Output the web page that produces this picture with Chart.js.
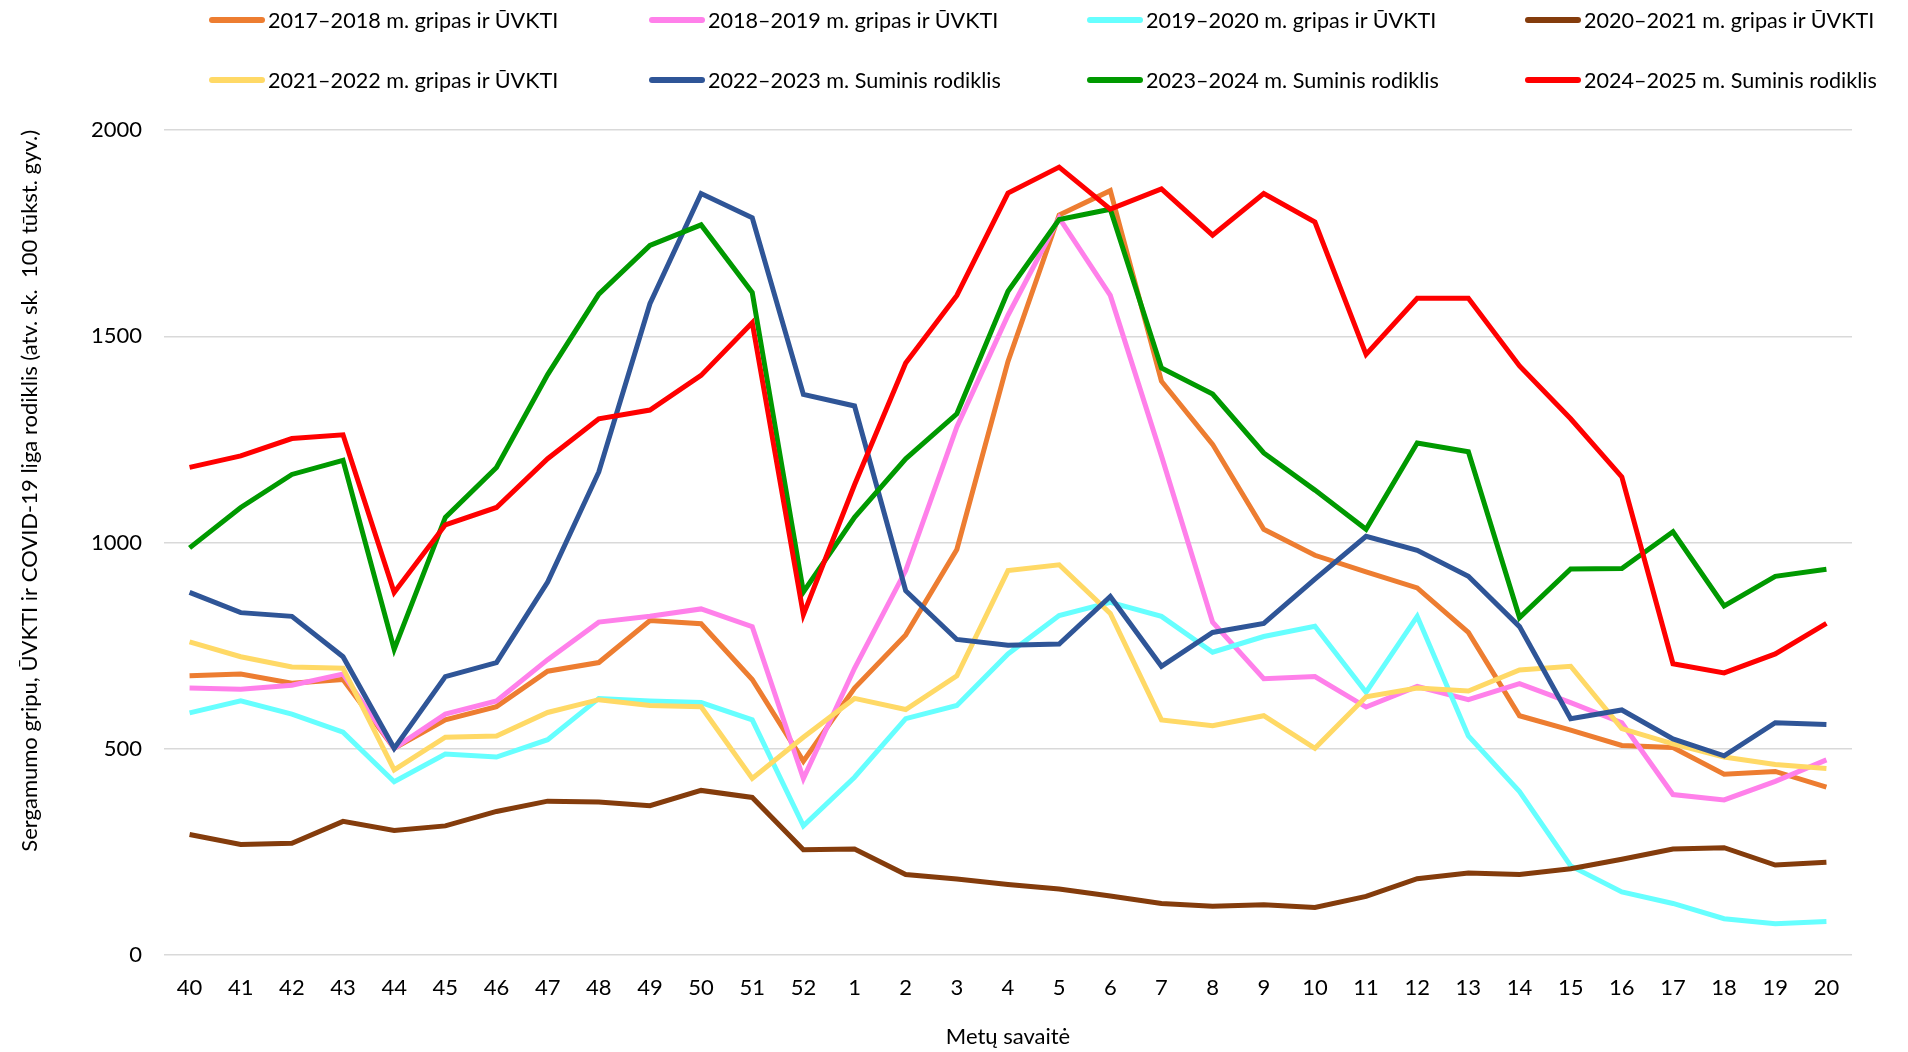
<!DOCTYPE html>
<html>
<head>
<meta charset="utf-8">
<script src="https://cdn.jsdelivr.net/npm/chart.js@4/dist/chart.umd.min.js"></script>
<style>
  html, body { margin: 0; padding: 0; background: #fff; }
  #wrap { position: relative; width: 1908px; height: 1052px; }
  #legend { position: absolute; left: 0; top: 0; width: 1908px; height: 110px; font-family: Lato, sans-serif; font-size: 21.6px; color: #000; }
  .item { position: absolute; display: flex; align-items: center; white-space: nowrap; height: 30px; }
  .swatch { width: 56px; height: 6px; border-radius: 3px; margin-right: 3px; }
</style>
</head>
<body>
<div id="wrap">
  <canvas id="graph" width="1908" height="1052"></canvas>
  <div id="legend"></div>
</div>
<script>
const weeks = ['40','41','42','43','44','45','46','47','48','49','50','51','52',
  '1','2','3','4','5','6','7','8','9','10','11','12','13','14','15','16','17','18','19','20']

const s1718 = [677,681,659,668,501,570,602,688,709,811,803,668,470,647,776,983,1439,1794,1853,1391,1238,1032,969,929,890,782,580,545,508,503,438,445,407]
const s1819 = [647,644,654,681,501,584,616,716,807,821,839,796,428,695,932,1280,1551,1787,1599,1210,807,670,675,601,651,619,658,612,563,389,376,421,473]
const s1920 = [587,616,584,540,420,487,480,522,622,616,612,570,313,431,573,605,730,823,855,821,734,772,797,637,821,531,396,216,153,125,88,76,81]
const s2021 = [292,268,271,324,302,313,348,373,371,362,399,382,255,257,195,184,171,160,143,125,118,122,115,142,185,199,195,209,232,257,260,218,225]
const s2122 = [759,723,698,695,449,528,531,588,619,605,602,428,528,622,595,677,932,946,828,570,556,580,501,626,647,640,691,700,549,512,480,462,452]
const s2223 = [879,830,821,723,501,675,709,904,1171,1579,1846,1787,1359,1331,883,765,751,754,869,700,782,804,911,1015,981,918,796,573,594,524,483,563,559]
const s2324 = [987,1085,1165,1199,741,1061,1182,1407,1602,1720,1770,1606,880,1061,1203,1312,1609,1783,1808,1423,1360,1217,1127,1032,1241,1220,818,936,937,1026,846,918,935]
const s2425 = [1182,1210,1252,1261,879,1043,1085,1203,1300,1321,1405,1533,825,1140,1435,1599,1847,1910,1808,1857,1745,1846,1777,1456,1592,1592,1428,1300,1159,706,684,730,804]

const seriesNames = [
  '2017–2018 m. gripas ir ŪVKTI',
  '2018–2019 m. gripas ir ŪVKTI',
  '2019–2020 m. gripas ir ŪVKTI',
  '2020–2021 m. gripas ir ŪVKTI',
  '2021–2022 m. gripas ir ŪVKTI',
  '2022–2023 m. Suminis rodiklis',
  '2023–2024 m. Suminis rodiklis',
  '2024–2025 m. Suminis rodiklis'
]
const seriesData = [s1718, s1819, s1920, s2021, s2122, s2223, s2324, s2425]
const colors = ['#ED7D31', '#FF80EA', '#66FFFF', '#843C0C', '#FFD966', '#2F5597', '#009900', '#FF0000']

const yTicks = [0, 500, 1000, 1500, 2000]

const font = 'Lato'

const datasets = seriesNames.map((name, i) => ({
  label: name,
  data: seriesData[i],
  borderColor: colors[i],
  backgroundColor: colors[i],
  borderWidth: 5,
  pointRadius: 0,
  tension: 0,
  fill: false,
  // excel draws later series on top
  order: seriesNames.length - i
}))

const cfg = {
  type: 'line',
  data: { labels: weeks, datasets: datasets },
  options: {
    responsive: false,
    animation: false,
    layout: { padding: { top: 130, right: 56, left: 0, bottom: 0 } },
    plugins: {
      legend: { display: false },
      tooltip: { enabled: false }
    },
    scales: {
      x: {
        offset: true,
        grid: { display: false, drawTicks: false },
        border: { display: false },
        ticks: { color: '#000', font: { family: font, size: 22 }, padding: 20, maxRotation: 0, autoSkip: false },
        title: { display: true, text: 'Metų savaitė', color: '#000', font: { family: font, size: 22 }, padding: { top: 0, bottom: 2 } },
        afterFit: scale => { scale.height = 97 }
      },
      y: {
        min: 0,
        max: 2000,
        afterBuildTicks: scale => { scale.ticks = yTicks.map(v => ({ value: v })) },
        grid: { color: '#d9d9d9', lineWidth: 1.5, drawTicks: false },
        border: { display: false },
        ticks: { color: '#000', font: { family: font, size: 22 }, padding: 22, callback: v => String(v) },
        title: {
          display: true,
          align: 'end',
          text: 'Sergamumo gripu, ŪVKTI ir COVID-19 liga rodiklis (atv. sk.  100 tūkst. gyv.)',
          color: '#000',
          font: { family: font, size: 22 },
          padding: { top: 17, bottom: 0 }
        },
        afterFit: scale => { scale.width = 164 }
      }
    }
  }
}

const chart = new Chart(document.querySelector('#graph'), cfg)

// legend in fixed columns, like the original
const legendEl = document.querySelector('#legend')
const colX = [209, 649, 1087, 1525]
const rowY = [5, 65]
chart.data.datasets.forEach((ds, i) => {
  const item = document.createElement('div')
  item.className = 'item'
  item.style.left = colX[i % 4] + 'px'
  item.style.top = rowY[Math.floor(i / 4)] + 'px'
  const sw = document.createElement('span')
  sw.className = 'swatch'
  sw.style.background = ds.borderColor
  const tx = document.createElement('span')
  tx.textContent = ds.label
  item.appendChild(sw)
  item.appendChild(tx)
  legendEl.appendChild(item)
})
</script>
</body>
</html>
